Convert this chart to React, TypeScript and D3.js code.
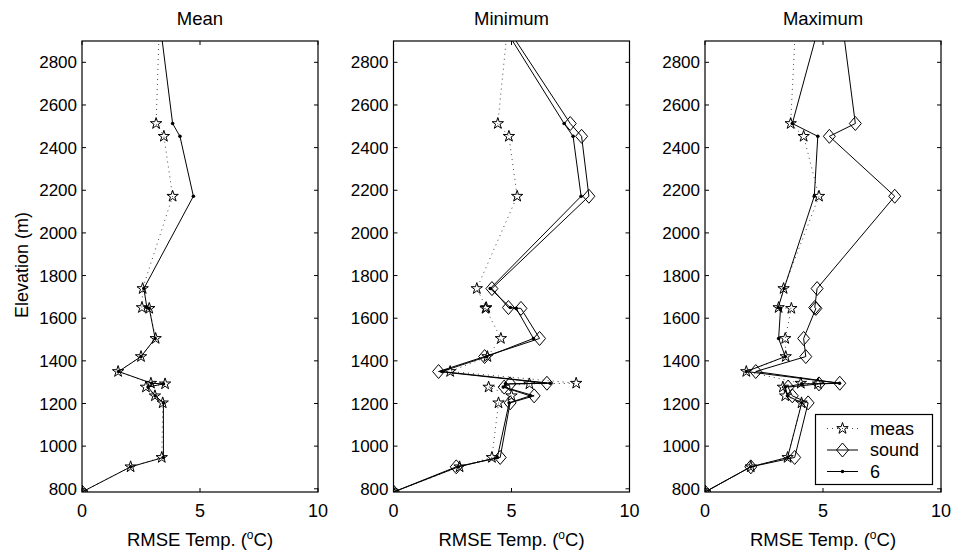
import React, { useEffect, useRef } from "react";
import * as d3 from "d3";

// station elevations (m), sorted high to low; first one is above the plotted range
const elevation = [3050, 2513, 2453, 2172, 1739, 1650, 1646, 1505, 1420, 1350, 1295, 1292, 1277, 1236, 1203, 947, 903, 785];

const panelTitles = ["Mean", "Minimum", "Maximum"];

// RMSE (deg C) per station, one array per panel and series
const meanMeas = [3.3, 3.14, 3.47, 3.84, 2.57, 2.54, 2.85, 3.12, 2.5, 1.53, 2.92, 3.52, 2.71, 3.09, 3.42, 3.38, 2.06, 0];
const meanSound = [null, null, null, null, null, null, null, null, null, null, null, null, null, null, null, null, null, 0];
const meanSix = [3.23, 3.84, 4.15, 4.72, 2.62, 2.75, 2.85, 3.1, 2.5, 1.55, 2.95, 3.45, 2.8, 3.1, 3.45, 3.45, 2.06, 0];

const minMeas = [4.91, 4.42, 4.89, 5.24, 3.53, 3.93, 3.9, 4.55, 3.98, 2.4, 7.74, 5.76, 4.03, 5.0, 4.45, 4.17, 2.8, 0];
const minSound = [4.3, 7.49, 7.97, 8.28, 4.17, 4.87, 5.4, 6.19, 3.86, 1.91, 6.5, 4.94, 4.69, 5.96, 4.94, 4.52, 2.66, 0];
const minSix = [4.2, 7.23, 7.61, 7.95, 4.1, 4.95, 5.2, 5.93, 3.95, 2.05, 6.64, 4.75, 4.65, 5.79, 4.9, 4.4, 2.75, 0];

const maxMeas = [3.87, 3.63, 4.18, 4.83, 3.33, 3.12, 3.66, 3.4, 3.42, 1.75, 4.06, 4.79, 3.3, 3.4, 4.09, 3.5, 1.94, 0];
const maxSound = [5.74, 6.37, 5.27, 8.04, 4.75, 4.65, 4.7, 4.18, 4.27, 2.15, 5.71, 4.83, 3.52, 3.7, 4.37, 3.8, 1.94, 0];
const maxSix = [5.02, 3.7, 4.78, 4.63, 3.35, 3.1, 3.2, 3.12, 3.4, 1.75, 5.7, 4.1, 3.4, 3.5, 4.1, 3.5, 1.94, 0];

const panelSeries = [
  [meanMeas, meanSound, meanSix],
  [minMeas, minSound, minSix],
  [maxMeas, maxSound, maxSix],
];

const legendLabels = ["meas", "sound", "6"];
const xTicks = [0, 5, 10];
const yTicks = d3.range(800, 2801, 200);

const FONT = "'Liberation Sans', Arial, Helvetica, sans-serif";

const App = () => {
  const ref = useRef<SVGSVGElement>(null);

  useEffect(() => {
    const svg = d3.select(ref.current);
    svg.selectAll("*").remove();

    const panelLeft = [82, 393.5, 705];
    const panelWidth = 236;
    const top = 41;
    const bottom = 492;

    const y = d3.scaleLinear().domain([785, 2900]).range([bottom, top]);

    const star = d3.symbol(d3.symbolStar, 40)();
    const diamond = "M0,-7L6,0L0,7L-6,0Z";

    panelSeries.forEach((series, p) => {
      const x = d3.scaleLinear().domain([0, 10]).range([panelLeft[p], panelLeft[p] + panelWidth]);
      const g = svg.append("g");

      svg.append("clipPath")
        .attr("id", `clip${p}`)
        .append("rect")
        .attr("x", panelLeft[p])
        .attr("y", top)
        .attr("width", panelWidth)
        .attr("height", bottom - top);

      // ticks (inside, on all four sides)
      xTicks.forEach((t) => {
        g.append("line").attr("x1", x(t)).attr("x2", x(t)).attr("y1", bottom).attr("y2", bottom - 4).attr("stroke", "#000");
        g.append("line").attr("x1", x(t)).attr("x2", x(t)).attr("y1", top).attr("y2", top + 4).attr("stroke", "#000");
        g.append("text")
          .attr("x", x(t))
          .attr("y", 517)
          .attr("text-anchor", "middle")
          .style("font-family", FONT)
          .style("font-size", "18px")
          .text(t);
      });
      yTicks.forEach((t) => {
        g.append("line").attr("x1", panelLeft[p]).attr("x2", panelLeft[p] + 4).attr("y1", y(t)).attr("y2", y(t)).attr("stroke", "#000");
        g.append("line").attr("x1", panelLeft[p] + panelWidth).attr("x2", panelLeft[p] + panelWidth - 4).attr("y1", y(t)).attr("y2", y(t)).attr("stroke", "#000");
        g.append("text")
          .attr("x", panelLeft[p] - 5)
          .attr("y", y(t))
          .attr("dy", "0.36em")
          .attr("text-anchor", "end")
          .style("font-family", FONT)
          .style("font-size", "17px")
          .text(t);
      });

      const plot = svg.append("g").attr("clip-path", `url(#clip${p})`);

      const pts = (vals) => vals.map((v, i) => ({ v, e: elevation[i] })).filter((d) => d.v !== null);
      const line = d3.line<{ v: number; e: number }>().x((d) => x(d.v)).y((d) => y(d.e));

      // meas: dotted line + stars
      const meas = pts(series[0]);
      plot.append("path").attr("d", line(meas)).attr("fill", "none").attr("stroke", "#444").attr("stroke-width", 1).attr("stroke-dasharray", "1,4");

      // sound: solid line + diamonds
      const sound = pts(series[1]);
      plot.append("path").attr("d", line(sound)).attr("fill", "none").attr("stroke", "#000").attr("stroke-width", 1);

      // 6: solid line + dots
      const six = pts(series[2]);
      plot.append("path").attr("d", line(six)).attr("fill", "none").attr("stroke", "#000").attr("stroke-width", 1);

      plot.selectAll(".star").data(meas).enter().append("path")
        .attr("d", star)
        .attr("transform", (d) => `translate(${x(d.v)},${y(d.e)})`)
        .attr("fill", "none").attr("stroke", "#000").attr("stroke-width", 1);

      plot.selectAll(".diamond").data(sound).enter().append("path")
        .attr("d", diamond)
        .attr("transform", (d) => `translate(${x(d.v)},${y(d.e)})`)
        .attr("fill", "none").attr("stroke", "#000").attr("stroke-width", 1);

      plot.selectAll(".dot").data(six).enter().append("circle")
        .attr("cx", (d) => x(d.v)).attr("cy", (d) => y(d.e)).attr("r", 1.8).attr("fill", "#000");

      // box
      g.append("rect")
        .attr("x", panelLeft[p]).attr("y", top)
        .attr("width", panelWidth).attr("height", bottom - top)
        .attr("fill", "none").attr("stroke", "#000").attr("stroke-width", 1.2);
      g.raise();

      // title
      svg.append("text")
        .attr("x", panelLeft[p] + panelWidth / 2)
        .attr("y", 25)
        .attr("text-anchor", "middle")
        .style("font-family", FONT)
        .style("font-size", "18.5px")
        .text(panelTitles[p]);

      // x label
      const xl = svg.append("text")
        .attr("x", panelLeft[p] + panelWidth / 2)
        .attr("y", 546)
        .attr("text-anchor", "middle")
        .style("font-family", FONT)
        .style("font-size", "18.5px");
      xl.append("tspan").text("RMSE Temp. (");
      xl.append("tspan").attr("dy", -7).style("font-size", "12px").text("o");
      xl.append("tspan").attr("dy", 7).text("C)");
    });

    // y label
    svg.append("text")
      .attr("transform", "translate(28,265) rotate(-90)")
      .attr("text-anchor", "middle")
      .style("font-family", FONT)
      .style("font-size", "18px")
      .text("Elevation (m)");

    // legend
    const lg = svg.append("g");
    lg.append("rect").attr("x", 815.5).attr("y", 414.5).attr("width", 117).attr("height", 70)
      .attr("fill", "#fff").attr("stroke", "#000").attr("stroke-width", 1.2);
    const rowY = [428.5, 450, 471.5];
    legendLabels.forEach((lab, i) => {
      const ln = lg.append("line").attr("x1", 827).attr("x2", 858).attr("y1", rowY[i]).attr("y2", rowY[i])
        .attr("stroke", i === 0 ? "#444" : "#000").attr("stroke-width", 1);
      if (i === 0) ln.attr("stroke-dasharray", "1,4");
      if (i === 0) lg.append("path").attr("d", star).attr("transform", `translate(842.5,${rowY[i]})`).attr("fill", "none").attr("stroke", "#000");
      if (i === 1) lg.append("path").attr("d", diamond).attr("transform", `translate(842.5,${rowY[i]})`).attr("fill", "none").attr("stroke", "#000");
      if (i === 2) lg.append("circle").attr("cx", 842.5).attr("cy", rowY[i]).attr("r", 1.8).attr("fill", "#000");
      lg.append("text").attr("x", 870).attr("y", rowY[i]).attr("dy", "0.36em")
        .style("font-family", FONT).style("font-size", "18px").text(lab);
    });
  }, []);

  return (
    <svg
      ref={ref}
      width={954}
      height={553}
      style={{ position: "absolute", left: 0, top: 0, background: "#fff" }}
    />
  );
};

export default App;
